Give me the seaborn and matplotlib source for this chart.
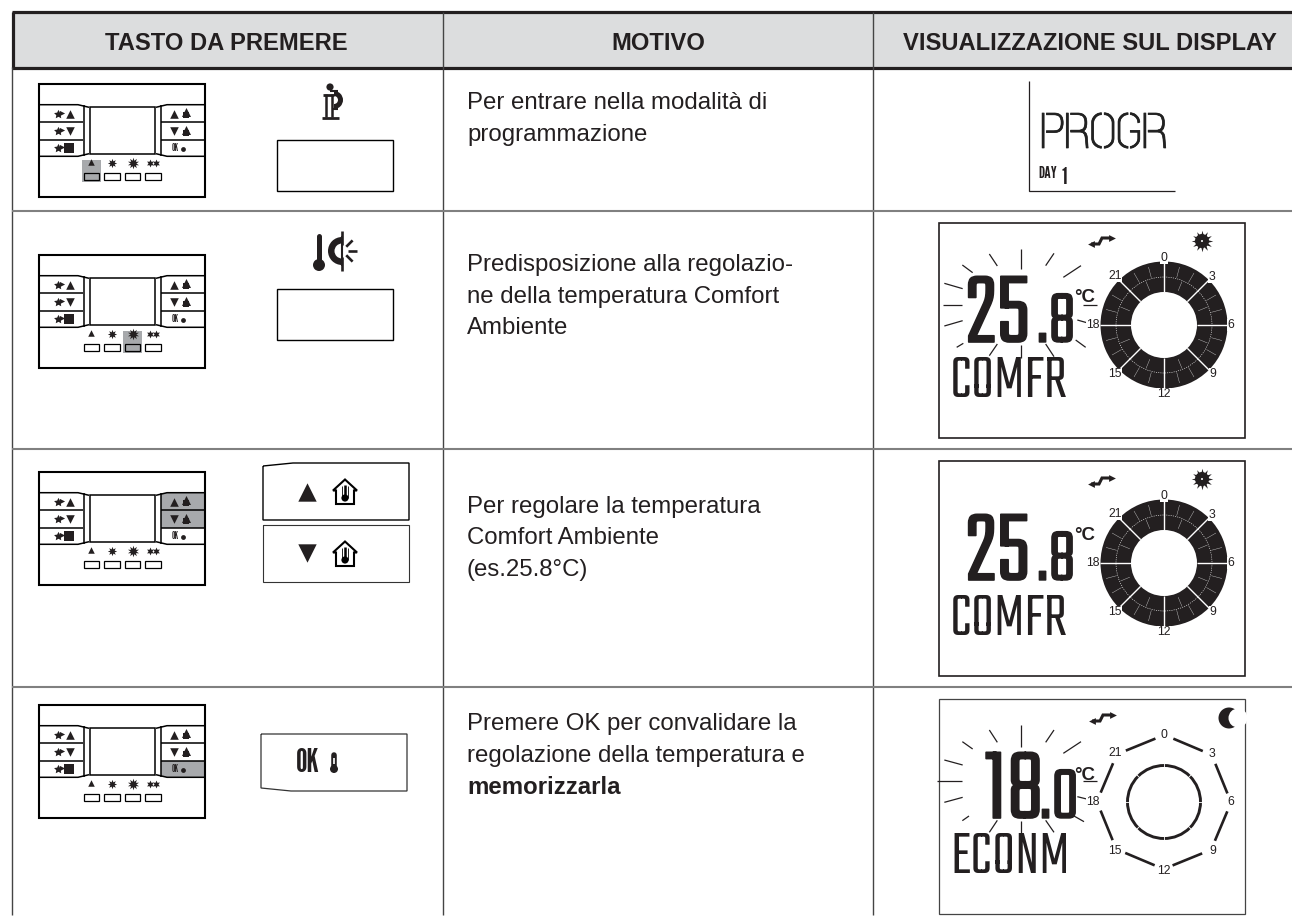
import numpy as np
import pandas as pd
import seaborn as sns
import matplotlib
matplotlib.use("Agg")
import matplotlib.pyplot as plt
import matplotlib.patheffects as pe
from matplotlib.patches import Circle, Wedge, Rectangle, Polygon

# ---- content -------------------------------------------------------------
HEADERS = ["TASTO DA PREMERE", "MOTIVO", "VISUALIZZAZIONE SUL DISPLAY"]
ROW1_LINES = ["Per entrare nella modalità di", "programmazione"]
ROW2_LINES = ["Predisposizione alla regolazio-", "ne della temperatura Comfort", "Ambiente"]
ROW3_LINES = ["Per regolare la temperatura", "Comfort Ambiente", "(es.25.8°C)"]
ROW4_LINES = ["Premere OK per convalidare la", "regolazione della temperatura e"]
ROW4_BOLD = "memorizzarla"
HOUR_LABELS = ["0", "3", "6", "9", "12", "15", "18", "21"]
COMFORT_WHOLE, COMFORT_FRAC = "25", ".8"
ECO_WHOLE, ECO_FRAC = "18", ".0"
WORD_PROG, WORD_COMF, WORD_ECO = "PROGR", "COMFR", "ECONM"
DAY_WORD, DAY_NUM = "DAY", "1"

# ---- style ---------------------------------------------------------------
sns.set_theme(style="white")
SANS = ["Liberation Sans", "DejaVu Sans"]
LCD = ["Teko", "Liberation Sans"]
LCD_THIN = ["Stick No Bills", "Big Shoulders Stencil", "Liberation Sans"]
COND = ["League Gothic", "Oswald", "Liberation Sans"]
plt.rcParams["font.family"] = SANS
INK = "#231f20"
HEAD = "#dcddde"
HIL = "#a7a9ac"
RULE = "#808080"

fig = plt.figure(figsize=(12.92, 9.17), dpi=100)
ax = fig.add_axes([0, 0, 1, 1])
ax.set_axis_off()


def lines(segs, color=INK, lw=1.0, z=3, cap="butt"):
    rows = [(i, x, y) for i, s in enumerate(segs) for x, y in s]
    df = pd.DataFrame(rows, columns=["u", "x", "y"])
    sns.lineplot(data=df, x="x", y="y", units="u", estimator=None, sort=False,
                 color=color, linewidth=lw, legend=False, ax=ax, zorder=z,
                 solid_capstyle=cap, solid_joinstyle="miter")


def marks(xs, ys, marker, s, color=INK, z=4):
    sns.scatterplot(x=list(xs), y=list(ys), marker=marker, s=s, color=color,
                    linewidth=0, legend=False, ax=ax, zorder=z)


def rect(x0, y0, x1, y1, fc="none", ec="none", lw=0, z=2):
    ax.add_patch(Rectangle((x0, y0), x1 - x0, y1 - y0, fc=fc, ec=ec, lw=lw, zorder=z))


def txt(x, y, s, size, family=SANS, weight="normal", style="normal", ha="left",
        color=INK, z=6, stroke=0):
    t = ax.text(x, y, s, fontsize=size, family=family, weight=weight, style=style,
                ha=ha, va="baseline", color=color, zorder=z)
    if stroke:
        t.set_path_effects([pe.withStroke(linewidth=stroke, foreground=color)])
    return t


# ---- table frame ---------------------------------------------------------
rect(12, 12, 1292, 67, fc=HEAD, z=1)
lines([[(12, 12), (1292, 12)], [(12, 67.5), (1292, 67.5)]], color=INK, lw=2.3)
lines([[(12.5, 12), (12.5, 67.5)]], color=INK, lw=2.3)
lines([[(12, 67), (12, 915)], [(443, 12), (443, 915)], [(873, 12), (873, 915)]],
      color="#444444", lw=1.0)
lines([[(12, y), (1292, y)] for y in (211, 449, 687)], color=RULE, lw=1.5)
for xc, head in zip((226.5, 658, 1090), HEADERS):
    txt(xc, 50, head, 17.1, weight="bold", ha="center")

# ---- body text -----------------------------------------------------------
for base, row in zip((109, 271, 513), (ROW1_LINES, ROW2_LINES, ROW3_LINES)):
    for i, s in enumerate(row):
        txt(467, base + i * 31.5, s, 17.3)
for i, s in enumerate(ROW4_LINES):
    txt(467, 730 + i * 32, s, 17.3)
txt(467, 794, ROW4_BOLD, 17.3, weight="bold")


# ---- mini control panel --------------------------------------------------
def house_mini(x, y):
    marks([x], [y + 1.5], "s", 16)
    marks([x], [y - 1.5], "^", 42)


def device(y0, hot_bottom=None, hot_right=()):
    X0, X1 = 39, 205
    o = [20.7, 38.3, 55.7, 72.3]
    if hot_bottom is not None:
        bx = [91.5, 112, 132.5, 153][hot_bottom]
        rect(bx - 9.5, y0 + 76, bx + 9.5, y0 + 97.5, fc=HIL)
    for r in hot_right:
        rect(161, y0 + o[r], 205, y0 + o[r + 1], fc=HIL)
    rect(X0, y0, X1, y0 + 113, ec="black", lw=1.5, z=3)
    rect(90, y0 + 23.3, 155, y0 + 69.7, ec="black", lw=1.1, z=3)
    segs = [
        [(X0, y0 + o[0]), (78, y0 + o[0]), (89, y0 + 23.3)],
        [(X0, y0 + o[3]), (78, y0 + o[3]), (89, y0 + 69.7)],
        [(X1, y0 + o[0]), (167, y0 + o[0]), (156, y0 + 23.3)],
        [(X1, y0 + o[3]), (167, y0 + o[3]), (156, y0 + 69.7)],
        [(X0, y0 + o[1]), (83, y0 + o[1])], [(X0, y0 + o[2]), (83, y0 + o[2])],
        [(161, y0 + o[1]), (X1, y0 + o[1])], [(161, y0 + o[2]), (X1, y0 + o[2])],
        [(83.5, y0 + o[0]), (83.5, y0 + o[3])], [(161, y0 + o[0]), (161, y0 + o[3])],
    ]
    lines(segs, color="black", lw=1.1)
    ym = [y0 + 29.5, y0 + 47, y0 + 64]
    marks([58, 58, 58], ym, (5, 1, 0), 45)
    marks([62, 62, 62], [y - 1 for y in ym], ">", 14)
    marks([70], [ym[0]], "^", 38)
    marks([70], [ym[1]], "v", 38)
    marks([69], [ym[2]], "s", 55)
    marks([174], [ym[0]], "^", 38)
    marks([174], [ym[1]], "v", 38)
    house_mini(186, ym[0])
    house_mini(186, ym[1])
    txt(172, ym[2] + 2.8, "OK", 7, family=COND)
    marks([183], [ym[2] + 1], "o", 12)
    marks([183], [ym[2] - 2], "|", 8)
    yi = y0 + 79
    marks([91], [yi + 2], "_", 30)
    marks([91], [yi - 1], "^", 22)
    marks([112], [yi], (8, 1, 0), 45)
    marks([132.5], [yi], (10, 1, 0), 70)
    marks([150, 156], [yi, yi - 0.5], (6, 1, 0), 32)
    for k, (a, b) in enumerate([(83.5, 99), (104, 120), (124.5, 140), (145, 161)]):
        fc = HIL if hot_bottom == k else "white"
        rect(a, y0 + 88.5, b, y0 + 95.5, fc=fc, ec="black", lw=0.9, z=3)


device(84, hot_bottom=0)
device(255, hot_bottom=2)
device(472, hot_right=(0, 1))
device(705, hot_right=(2,))

# ---- enlarged keys -------------------------------------------------------
rect(277, 140, 393, 191, ec="black", lw=1.0, z=3)
rect(277, 289, 393, 340, ec="black", lw=1.0, z=3)
lines([[(263, 466), (293, 463), (409, 463), (409, 520), (263, 520), (263, 466)]], color="black", lw=1.0)
lines([[(263, 525), (409, 525), (409, 582), (263, 582), (263, 525)]], color="#333333", lw=0.8)
lines([[(261, 734), (407, 734), (407, 791), (291, 791), (261, 788), (261, 734)]], color="#333333", lw=0.9)


def house_big(x, top):
    ax.add_patch(Polygon([(x, top + 1.5), (x + 12, top + 12.5), (x + 9, top + 12.5), (x + 9, top + 26),
                          (x - 9, top + 26), (x - 9, top + 12.5), (x - 12, top + 12.5)],
                         closed=True, fc="white", ec="black", lw=1.5, zorder=3))
    lines([[(x, top + 7), (x, top + 20)]], color="black", lw=1.8, z=4)
    ax.add_patch(Circle((x, top + 20), 3.6, fc="black", ec="none", zorder=4))
    lines([[(x - 3, top + 8), (x - 3, top + 20)], [(x + 3, top + 8), (x + 3, top + 20)]], color="black", lw=0.6, z=4)


marks([306.5], [492], "^", 175)
marks([306.5], [553], "v", 175)
house_big(345, 478)
house_big(345, 540)
txt(296, 772, "OK", 23, family=COND)
lines([[(334, 755), (334, 768)]], color=INK, lw=4, cap="round")
lines([[(334, 758), (334, 764)]], color="white", lw=1.2, z=4)
ax.add_patch(Circle((334, 769), 4, fc=INK, ec="none", zorder=4))

# P key symbol
ax.add_patch(Circle((330, 87), 3.6, fc=INK, ec="none", zorder=4))
lines([[(323, 95), (334, 95)], [(322, 118), (339, 118)]], lw=2.0)
lines([[(326, 94), (326, 117)], [(332, 94), (332, 117)]], lw=1.8)
ax.add_patch(Wedge((334, 100), 9, -90, 90, width=5, fc=INK, ec="none", zorder=4))
lines([[(330, 91), (338, 91)], [(332, 109), (338, 109)]], lw=1.5)

# thermometer + sun symbol
lines([[(319, 236), (319, 263)]], lw=3.6, cap="round")
ax.add_patch(Circle((319, 265), 6, fc=INK, ec="none", zorder=4))
ax.add_patch(Wedge((342, 251), 14, 90, 270, width=6.5, fc=INK, ec="none", zorder=4))
ang = np.deg2rad([-90, -45, 0, 45, 90])
lines([[(342 + 6 * np.cos(a), 251 + 6 * np.sin(a)), (342 + (15 if abs(a) < 1.5 else 20) * np.cos(a),
        251 + (15 if abs(a) < 1.5 else 20) * np.sin(a))] for a in ang], lw=1.9)
lines([[(342, 236), (342, 266)]], lw=1.5)


# ---- LCD displays --------------------------------------------------------
def hour_labels(cx, cy):
    radii = [67, 68, 67, 69, 69, 69, 71, 69]
    for k, lab in enumerate(HOUR_LABELS):
        a = np.deg2rad(45 * k)
        x, y = cx + radii[k] * np.sin(a), cy - radii[k] * np.cos(a)
        ax.text(x, y, lab, fontsize=8.8, ha="center", va="center", color=INK, zorder=7,
                bbox=dict(fc="white", ec="none", pad=0.2))


def ring_full(cx, cy):
    ax.add_patch(Wedge((cx, cy), 63.5, 0, 360, width=30.5, fc=INK, ec="none", zorder=3))
    ax.add_patch(Circle((cx, cy), 48, fc="none", ec="white", lw=0.4, ls=(0, (2, 2)), zorder=4))
    minor, major = [], []
    for k in range(24):
        a = np.deg2rad(15 * k)
        s, c = np.sin(a), np.cos(a)
        if k % 3 == 0:
            major.append([(cx + 33 * s, cy - 33 * c), (cx + 64 * s, cy - 64 * c)])
        else:
            minor.append([(cx + 49 * s, cy - 49 * c), (cx + 60 * s, cy - 60 * c)])
    for k in range(8):
        a = np.deg2rad(45 * k + 22.5)
        s, c = np.sin(a), np.cos(a)
        minor.append([(cx + 37 * s, cy - 37 * c), (cx + 47 * s, cy - 47 * c)])
    lines(minor, color="#cccccc", lw=0.3, z=5)
    lines(major, color="white", lw=1.0, z=5)
    hour_labels(cx, cy)


def ring_empty(cx, cy):
    ax.add_patch(Circle((cx, cy), 36.5, fc="none", ec=INK, lw=2.1, zorder=3))
    ticks, arcs = [], []
    for k in range(8):
        a = np.deg2rad(45 * k)
        s, c = np.sin(a), np.cos(a)
        ticks.append([(cx + 33 * s, cy - 33 * c), (cx + 40 * s, cy - 40 * c)])
        a0, a1 = np.deg2rad(45 * k + 8.4), np.deg2rad(45 * k + 37.3)
        arcs.append([(cx + 64 * np.sin(a0), cy - 64 * np.cos(a0)), (cx + 64 * np.sin(a1), cy - 64 * np.cos(a1))])
    lines(ticks, color="white", lw=0.6, z=5)
    lines(arcs, color=INK, lw=1.9)
    hour_labels(cx, cy)


def squiggle(cx, cy):
    lines([[(cx - 10, cy + 3), (cx - 2, cy + 3), (cx + 1, cy - 3), (cx + 10, cy - 3)]], lw=2.2)
    marks([cx - 10], [cy + 3], "<", 24)
    marks([cx + 11], [cy - 3], ">", 24)


def sun(cx, cy):
    marks([cx], [cy], (12, 1, 0), 240, z=4)
    ax.add_patch(Circle((cx, cy), 7, fc=INK, ec="none", zorder=4))
    ax.add_patch(Circle((cx, cy), 1, fc="white", ec="none", zorder=5))


def rays(segments, ox, oy):
    lines([[(ox + a / 3, oy + b / 3), (ox + c / 3, oy + d / 3)] for a, b, c, d in segments], color=INK, lw=0.9)


# row 1
lines([[(1029, 81), (1029, 190.5), (1175, 190.5)]], color=INK, lw=0.9)
txt(1040, 148, WORD_PROG, 36, family=LCD_THIN, color="#222222", stroke=0.5)
txt(1038, 178, DAY_WORD, 12, family=COND)
txt(1062, 184, DAY_NUM, 17, family=COND)

# frames
rect(938.5, 223, 1244.5, 438, ec=INK, lw=1.2, z=3)
rect(938.5, 461, 1244.5, 676, ec=INK, lw=1.2, z=3)
rect(938.5, 699, 1244.5, 914, ec="#444444", lw=0.9, z=3)
rays([(303, 118, 303, 178), (208, 132, 232, 168), (127, 165, 158, 188), (73, 220, 128, 236),
      (70, 284, 127, 284), (73, 348, 128, 332), (110, 412, 130, 400), (208, 437, 232, 402),
      (303, 405, 303, 445), (377, 402, 402, 440), (467, 390, 497, 412), (472, 330, 500, 338),
      (490, 284, 530, 284), (430, 202, 483, 167), (377, 167, 402, 130)], 920, 210)
rays([(303, 105, 303, 170), (208, 120, 232, 157), (127, 155, 158, 177), (73, 210, 128, 225),
      (52, 272, 127, 272), (73, 337, 128, 322), (127, 392, 147, 378), (208, 427, 232, 391),
      (303, 392, 303, 435), (377, 391, 402, 427), (462, 378, 492, 395), (472, 320, 500, 327),
      (490, 272, 530, 272), (430, 190, 483, 155), (377, 157, 402, 120)], 920, 690)

for base, word_base, word in ((342, 397, WORD_COMF), (580, 635, WORD_COMF)):
    txt(966, base, COMFORT_WHOLE, 76, family=LCD, stroke=1.2)
    txt(1037, base, COMFORT_FRAC, 56, family=LCD, stroke=1.0)
    txt(1074, base - 40, "°C", 13.5, weight="bold")
    txt(950, word_base, word, 46, family=LCD)
txt(984, 818, ECO_WHOLE, 76, family=LCD, stroke=1.2)
txt(1040, 818, ECO_FRAC, 56, family=LCD, stroke=1.0)
txt(1074, 780, "°C", 13.5, weight="bold")
txt(950, 873, WORD_ECO, 46, family=LCD)

ring_full(1164, 325)
ring_full(1164, 563)
ring_empty(1164, 802)
squiggle(1101, 241)
squiggle(1101, 481)
squiggle(1102, 718)
sun(1202, 241)
sun(1202, 479)
ax.add_patch(Circle((1229, 718), 10.5, fc=INK, ec="none", zorder=4))
ax.add_patch(Circle((1238, 718), 9.5, fc="white", ec="none", zorder=5))

ax.set_xlim(0, 1292)
ax.set_ylim(917, 0)
ax.set_xlabel("")
ax.set_ylabel("")
fig.savefig("out.png", dpi=100, facecolor="white")
